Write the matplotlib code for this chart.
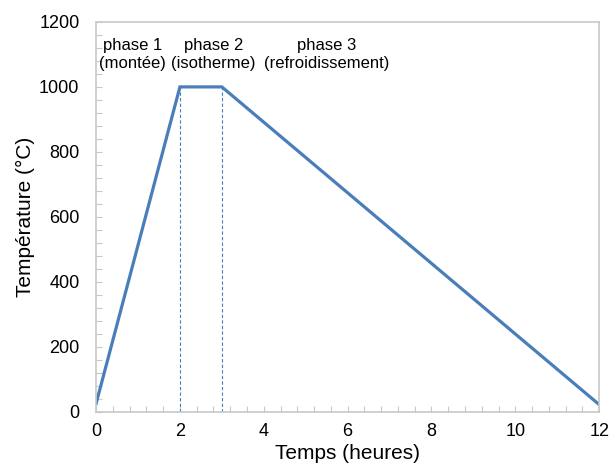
import numpy as np
import matplotlib
matplotlib.use("Agg")
import matplotlib.pyplot as plt
from matplotlib.ticker import MultipleLocator

plt.rcParams['font.family'] = ['Liberation Sans', 'DejaVu Sans']

# données du cycle thermique
temps = [0, 2, 3, 12]
temperature = [25, 1000, 1000, 22]

# limites des phases (lignes pointillées)
limites = [2, 3]
palier = 1000

# textes des phases
phases_x = [0.86, 2.8, 5.5]
phases_txt = ['phase 1\n(montée)', 'phase 2\n(isotherme)', 'phase 3\n(refroidissement)']

bleu = '#4A7EBB'
gris = '#C8C8C8'

fig = plt.figure(figsize=(6.12, 4.73), dpi=100)
ax = fig.add_axes([0.157, 0.1296, 0.822, 0.824])

ax.plot(temps, temperature, color=bleu, linewidth=2.3, solid_joinstyle='miter')
for xl in limites:
    ax.plot([xl, xl], [0, palier], color=bleu, linewidth=0.8, linestyle=(0, (3, 2)))

for xp, txt in zip(phases_x, phases_txt):
    ax.text(xp, 1100, txt, ha='center', va='center', fontsize=12, linespacing=1.25)

ax.set_xlim(0, 12)
ax.set_ylim(0, 1200)
ax.xaxis.set_major_locator(MultipleLocator(2))
ax.xaxis.set_minor_locator(MultipleLocator(0.4))
ax.yaxis.set_major_locator(MultipleLocator(200))
ax.yaxis.set_minor_locator(MultipleLocator(40))

ax.tick_params(which='both', direction='in', length=4, width=0.8, color=gris,
               labelsize=13)
ax.tick_params(axis='x', pad=8)
ax.tick_params(axis='y', pad=12)
for s in ax.spines.values():
    s.set_color(gris)
    s.set_linewidth(1.2)

ax.set_xlabel('Temps (heures)', fontsize=15, labelpad=3)
ax.set_ylabel('Température (°C)', fontsize=15, labelpad=3)

fig.savefig('out.png', dpi=100)
